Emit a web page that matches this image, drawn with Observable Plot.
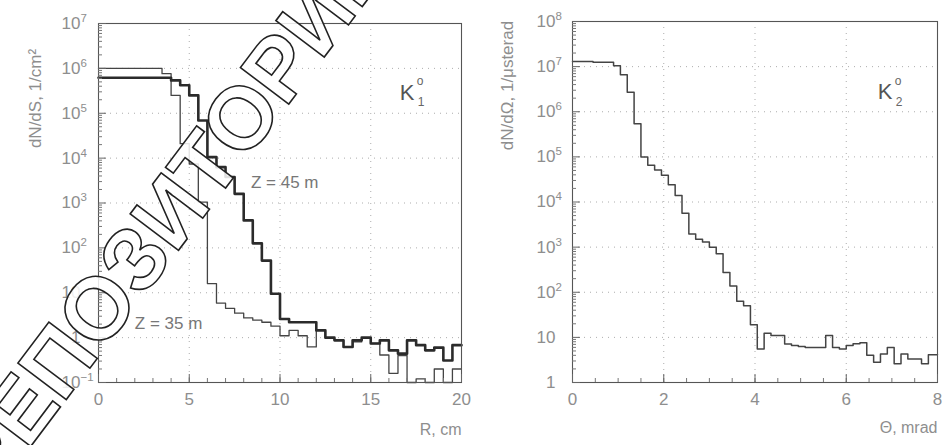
<!DOCTYPE html>
<html><head><meta charset="utf-8">
<script src="https://cdn.jsdelivr.net/npm/d3@7"></script>
<script src="https://cdn.jsdelivr.net/npm/@observablehq/plot@0.6"></script>
<style>
body{margin:0;background:#fff;}
#wrap{position:relative;width:946px;height:445px;overflow:hidden;font-family:"Liberation Sans",Arial,sans-serif;}
#wrap > .panel{position:absolute;top:0;}
#wm{position:absolute;left:0;top:0;pointer-events:none;}
</style></head><body><div id="wrap"></div>
<script>
// ---------- data ----------
// Left panel: dN/dS vs R, 0.5 cm bins from 0 to 20 cm
const rBinWidth = 0.5;
const z45 = [6.2e5,6.2e5,6.2e5,6.2e5,6.2e5,6.2e5,6.2e5,6.2e5,5.4e5,4.2e5,
             2.5e5,6.9e4,1.05e4,6.3e3,3.8e3,1.6e3,410,126,52,9.5,
             2.6,2.2,2.2,2.2,1.45,1.0,0.87,0.62,0.87,1.0,
             0.74,0.87,0.52,0.44,0.87,0.68,0.52,0.6,0.31,0.68];
const z35 = [1.0e6,1.0e6,1.0e6,1.0e6,1.0e6,1.0e6,1.0e6,7.6e5,2.5e5,2.1e4,
             7.4e3,1.05e3,16,5.9,4.5,3.5,2.75,2.45,2.2,1.8,
             1.1,1.45,1.1,0.62,1.45,1.0,0.87,0.62,0.8,1.0,
             0.74,0.41,0.16,0.4,0.1,0.12,0.1,0.2,0.1,0.2];
// Right panel: dN/dΩ vs Θ, 0.15 mrad bins from 0 to 8 mrad
const thetaBinWidth = 0.15;
const k2 = [1.3e7,1.3e7,1.3e7,1.25e7,1.25e7,1.25e7,1.05e7,6.6e6,2.7e6,5.4e5,
            1.0e5,6.5e4,5.1e4,3.9e4,2.4e4,1.4e4,5.6e3,1.95e3,1.5e3,1.3e3,
            1.0e3,710,275,138,63,50,19,5.5,12.3,11,
            11,7.1,6.6,6.3,6.0,6.0,6.0,11,6.0,5.5,
            6.6,7.2,7.6,4.0,2.8,4.3,6.0,2.6,4.3,3.3,
            3.3,2.6,4.1,4.1];

// ticks and labels
const leftYTicks = [1e-1,1,10,1e2,1e3,1e4,1e5,1e6,1e7];
const leftYLabels = ["10^−1","1","10","10^2","10^3","10^4","10^5","10^6","10^7"];
const leftXTicks = [0,5,10,15,20];
const rightYTicks = [1,10,1e2,1e3,1e4,1e5,1e6,1e7,1e8];
const rightYLabels = ["1","10","10^2","10^3","10^4","10^5","10^6","10^7","10^8"];
const rightXTicks = [0,2,4,6,8];

const leftYTitle = "dN/dS, 1/cm²";
const leftXTitle = "R, cm";
const rightYTitle = "dN/dΩ, 1/μsterad";
const rightXTitle = "Θ, mrad";
const seriesNames = ["Z = 45 m", "Z = 35 m"];
const watermark = "РЕПОЗИТОРИЙ";

// ---------- helpers ----------
const FONT = '"Liberation Sans", Arial, sans-serif';
const LABEL = "#8e8e8e";
function steps(values, w, xmax) {
  const pts = values.map((v, i) => ({x: i * w, y: v}));
  pts.push({x: xmax, y: values[values.length - 1]});
  return pts;
}
function minorLog(majors) {
  return majors.slice(0, -1).flatMap(m => [2,3,4,5,6,7,8,9].map(k => k * m));
}
function labelMap(ticks, labels) {
  const m = new Map(ticks.map((t, i) => [t, labels[i]]));
  return d => m.get(d);
}
function supers(svg) {
  svg.querySelectorAll("text").forEach(t => {
    const s = t.textContent;
    const m = /^10\^(.+)$/.exec(s);
    if (!m) return;
    t.textContent = "";
    const ns = "http://www.w3.org/2000/svg";
    const a = document.createElementNS(ns, "tspan");
    a.textContent = "10";
    const b = document.createElementNS(ns, "tspan");
    b.textContent = m[1];
    b.setAttribute("font-size", "11.5");
    b.setAttribute("dy", "-7");
    t.appendChild(a); t.appendChild(b);
    const w = b.getComputedTextLength();
    t.setAttribute("transform", (t.getAttribute("transform") || "") + ` translate(${w},0)`);
  });
}
function kLabel(x, y, sub) {
  return [
    Plot.text([sub], {x: () => x, y: () => y, text: () => "K", fontSize: 22, fill: "#555", textAnchor: "start", fontFamily: FONT}),
    Plot.text([sub], {x: () => x, y: () => y, text: () => "o", dx: 17, dy: -11, fontSize: 12, fill: "#666", textAnchor: "start", fontFamily: FONT}),
    Plot.text([sub], {x: () => x, y: () => y, text: d => d, dx: 18, dy: 10, fontSize: 12, fill: "#666", textAnchor: "start", fontFamily: FONT})
  ];
}

const wrap = document.getElementById("wrap");

// ---------- left panel ----------
const left = Plot.plot({
  width: 470, height: 445,
  marginLeft: 98, marginRight: 9, marginTop: 23, marginBottom: 63,
  style: {fontFamily: FONT, background: "transparent", overflow: "visible"},
  x: {domain: [0, 20]},
  y: {type: "log", domain: [0.1, 1e7]},
  marks: [
    Plot.gridY(leftYTicks.slice(1, -1), {stroke: "#999", strokeOpacity: 0.8, strokeDasharray: "1,5"}),
    Plot.gridX(leftXTicks.slice(1, -1), {stroke: "#999", strokeOpacity: 0.8, strokeDasharray: "1,5"}),
    Plot.line(steps(z35, rBinWidth, 20), {x: "x", y: "y", curve: "step-after", stroke: "#444", strokeWidth: 1.3}),
    Plot.line(steps(z45, rBinWidth, 20), {x: "x", y: "y", curve: "step-after", stroke: "#2b2b2b", strokeWidth: 2.6}),
    Plot.frame({stroke: "#555", strokeWidth: 1.1}),
    Plot.axisY(minorLog(leftYTicks), {tickSize: -4, tickFormat: () => "", label: null, stroke: "#777"}),
    Plot.axisY(leftYTicks, {tickSize: -8, tickFormat: () => "", label: null, stroke: "#666"}),
    Plot.axisY(leftYTicks, {tickSize: 0, tickPadding: 18, tickFormat: labelMap(leftYTicks, leftYLabels), fontSize: 17, color: LABEL, label: null}),
    Plot.axisX(d3.range(1, 20), {tickSize: -4, tickFormat: () => "", label: null, stroke: "#777"}),
    Plot.axisX(leftXTicks, {tickSize: -8, tickFormat: () => "", label: null, stroke: "#666"}),
    Plot.axisX(leftXTicks, {tickSize: 0, tickPadding: 10, tickFormat: d => String(d), fontSize: 17, color: LABEL, label: null}),
    Plot.text([leftYTitle], {frameAnchor: "top-left", rotate: -90, dx: -70, dy: 75, fontSize: 17, fill: LABEL, textAnchor: "middle"}),
    Plot.text([leftXTitle], {frameAnchor: "bottom-right", dy: 52, fontSize: 16, fill: LABEL, textAnchor: "end"}),
    Plot.text([seriesNames[0]], {x: () => 8.4, y: () => 2.8e3, fontSize: 17, fill: "#777", textAnchor: "start"}),
    Plot.text([seriesNames[1]], {x: () => 2.0, y: () => 2.1, fontSize: 17, fill: "#777", textAnchor: "start"}),
    ...kLabel(16.6, 2.9e5, "1")
  ]
});
left.classList.add("panel");
left.style.left = "0px";
wrap.appendChild(left);
supers(left);

// ---------- right panel ----------
const right = Plot.plot({
  width: 476, height: 445,
  marginLeft: 102, marginRight: 9, marginTop: 21, marginBottom: 63,
  style: {fontFamily: FONT, background: "transparent", overflow: "visible"},
  x: {domain: [0, 8]},
  y: {type: "log", domain: [1, 1e8]},
  marks: [
    Plot.gridY(rightYTicks.slice(1, -1), {stroke: "#999", strokeOpacity: 0.8, strokeDasharray: "1,5"}),
    Plot.gridX(rightXTicks.slice(1, -1), {stroke: "#999", strokeOpacity: 0.8, strokeDasharray: "1,5"}),
    Plot.line(steps(k2, thetaBinWidth, 8), {x: "x", y: "y", curve: "step-after", stroke: "#444", strokeWidth: 1.5}),
    Plot.frame({stroke: "#555", strokeWidth: 1.1}),
    Plot.axisY(minorLog(rightYTicks), {tickSize: -4, tickFormat: () => "", label: null, stroke: "#777"}),
    Plot.axisY(rightYTicks, {tickSize: -8, tickFormat: () => "", label: null, stroke: "#666"}),
    Plot.axisY(rightYTicks, {tickSize: 0, tickPadding: 17, tickFormat: labelMap(rightYTicks, rightYLabels), fontSize: 17, color: LABEL, label: null}),
    Plot.axisX(d3.range(0.5, 8, 0.5), {tickSize: -4, tickFormat: () => "", label: null, stroke: "#777"}),
    Plot.axisX(rightXTicks, {tickSize: -8, tickFormat: () => "", label: null, stroke: "#666"}),
    Plot.axisX(rightXTicks, {tickSize: 0, tickPadding: 10, tickFormat: d => String(d), fontSize: 17, color: LABEL, label: null}),
    Plot.text([rightYTitle], {frameAnchor: "top-left", rotate: -90, dx: -72, dy: 64, fontSize: 17, fill: LABEL, textAnchor: "middle"}),
    Plot.text([rightXTitle], {frameAnchor: "bottom-right", dy: 50, fontSize: 16, fill: LABEL, textAnchor: "end"}),
    ...kLabel(6.69, 2.7e6, "2")
  ]
});
right.classList.add("panel");
right.style.left = "470px";
wrap.appendChild(right);
supers(right);

// ---------- watermark overlay ----------
const ns = "http://www.w3.org/2000/svg";
const wm = document.createElementNS(ns, "svg");
wm.setAttribute("id", "wm");
wm.setAttribute("width", 946);
wm.setAttribute("height", 445);
const wt = document.createElementNS(ns, "text");
wt.textContent = watermark;
wt.setAttribute("font-family", FONT);
wt.setAttribute("font-weight", "bold");
wt.setAttribute("font-size", "88");
wt.setAttribute("fill", "#fff");
wt.setAttribute("fill-opacity", "0.85");
wt.setAttribute("stroke", "#222");
wt.setAttribute("stroke-width", "1.6");
wt.setAttribute("transform", "translate(-8,498) rotate(-53)");
wm.appendChild(wt);
wrap.appendChild(wm);
</script>
</body></html>
